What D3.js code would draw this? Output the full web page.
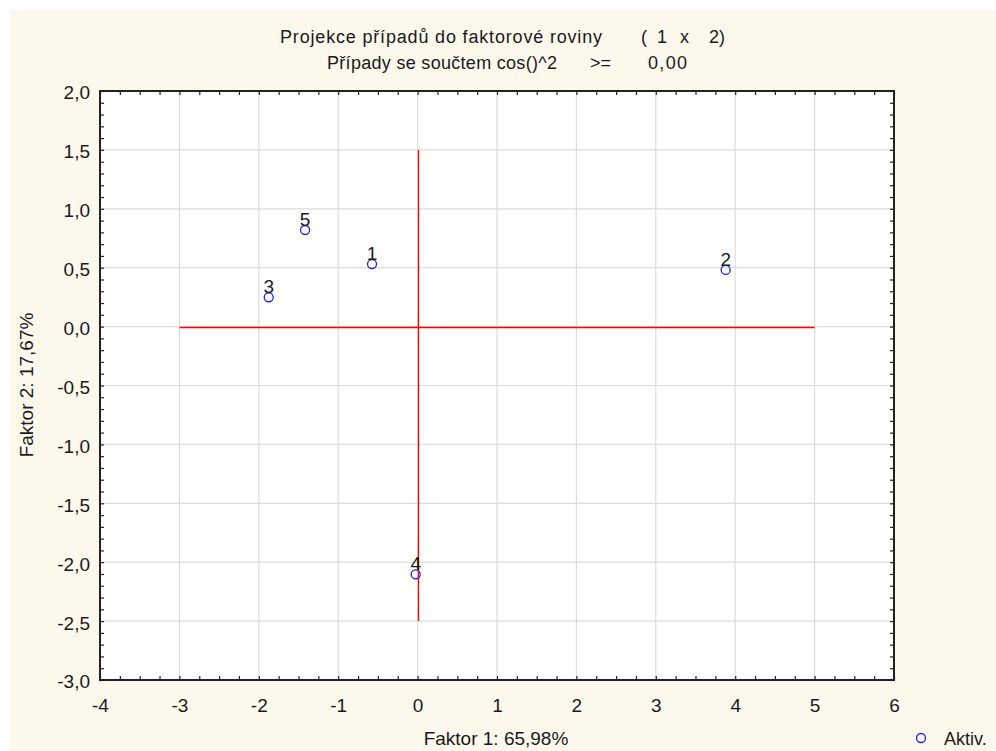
<!DOCTYPE html>
<html><head><meta charset="utf-8">
<script src="https://cdn.jsdelivr.net/npm/d3@7"></script>
<style>
html,body{margin:0;padding:0;background:#fff;}
svg{display:block;}
text{font-family:"Liberation Sans",Arial,sans-serif;fill:#1a1a1a;}
</style></head>
<body>
<svg id="chart" width="996" height="751"></svg>
<script>
// Data
const caseLabels = ["1", "2", "3", "4", "5"];
const factor1 = [-0.574, 3.88, -1.875, -0.024, -1.417];
const factor2 = [0.531, 0.481, 0.249, -2.103, 0.820];
const xTicks = [-4, -3, -2, -1, 0, 1, 2, 3, 4, 5, 6];
const yTicks = [2.0, 1.5, 1.0, 0.5, 0.0, -0.5, -1.0, -1.5, -2.0, -2.5, -3.0];
const hLine = {x: [-3, 5], y: 0};
const vLine = {x: 0, y: [1.5, -2.5]};

const svg = d3.select("#chart");
svg.append("rect").attr("x",10).attr("y",10).attr("width",986).attr("height",741).attr("fill","#fdf8ec");

const L=100,R=894,T=91,B=680;
const x = d3.scaleLinear().domain([-4,6]).range([L,R]);
const y = d3.scaleLinear().domain([-3,2]).range([B,T]);
const px = v => Math.round(v)+0.5;

svg.append("rect").attr("x",L).attr("y",T).attr("width",R-L).attr("height",B-T).attr("fill","#fff");

// grid
const grid = svg.append("g").attr("stroke","#dcdcdc").attr("stroke-width",1.2);
grid.selectAll(".gx").data(xTicks.slice(1,-1)).join("line")
  .attr("x1",d=>x(d)).attr("x2",d=>x(d)).attr("y1",T).attr("y2",B);
grid.selectAll(".gy").data(yTicks.slice(1,-1)).join("line")
  .attr("y1",d=>y(d)).attr("y2",d=>y(d)).attr("x1",L).attr("x2",R);

// red cross
svg.append("line").attr("x1",x(hLine.x[0])).attr("x2",x(hLine.x[1])).attr("y1",px(y(hLine.y))).attr("y2",px(y(hLine.y)))
  .attr("stroke","#ff0000").attr("stroke-width",1.3);
svg.append("line").attr("x1",px(x(vLine.x))).attr("x2",px(x(vLine.x))).attr("y1",y(vLine.y[0])).attr("y2",y(vLine.y[1]))
  .attr("stroke","#ff0000").attr("stroke-width",1.3);

// minor ticks (inward)
const xMinor = d3.range(-4, 6.001, 0.25);
const yMinor = d3.range(-3, 2.001, 0.1);
function minorAxis(axis, tr){
  const g = svg.append("g").attr("transform",tr).call(axis);
  g.select(".domain").remove();
  g.selectAll("text").remove();
  g.selectAll("line").attr("stroke","#222").attr("stroke-width",1.2);
}
minorAxis(d3.axisBottom(x).tickValues(xMinor).tickSize(-4).tickFormat(""), `translate(0,${B})`);
minorAxis(d3.axisTop(x).tickValues(xMinor).tickSize(-4).tickFormat(""), `translate(0,${T})`);
minorAxis(d3.axisLeft(y).tickValues(yMinor).tickSize(-4).tickFormat(""), `translate(${L},0)`);
minorAxis(d3.axisRight(y).tickValues(yMinor).tickSize(-4).tickFormat(""), `translate(${R},0)`);

// frame
svg.append("rect").attr("x",L).attr("y",T).attr("width",R-L).attr("height",B-T)
  .attr("fill","none").attr("stroke","#222").attr("stroke-width",2);

// labelled axes
const fmtY = d => d.toFixed(1).replace(".",",").replace("\u2212","-");
const xa = svg.append("g").attr("transform",`translate(0,${B})`)
  .call(d3.axisBottom(x).tickValues(xTicks).tickSize(0).tickFormat(d=>String(d)));
xa.select(".domain").remove();
xa.selectAll("text").attr("y",32).attr("dy",0).style("font-size","19px").style("font-family","'Liberation Sans',Arial,sans-serif").attr("fill","#1a1a1a");
const ya = svg.append("g").attr("transform",`translate(${L},0)`)
  .call(d3.axisLeft(y).tickValues(yTicks).tickSize(0).tickFormat(fmtY));
ya.select(".domain").remove();
ya.selectAll("text").attr("x",-10).attr("dy","0.42em").style("font-size","19px").style("font-family","'Liberation Sans',Arial,sans-serif").attr("fill","#1a1a1a");

// points
const pts = caseLabels.map((c,i)=>({c, fx:factor1[i], fy:factor2[i]}));
svg.append("g").selectAll("circle").data(pts).join("circle")
  .attr("cx",d=>x(d.fx)).attr("cy",d=>y(d.fy)).attr("r",4.5)
  .attr("fill","none").attr("stroke","#1f1fff").attr("stroke-width",1.3);
svg.append("g").selectAll("text").data(pts).join("text")
  .attr("x",d=>x(d.fx)).attr("y",d=>y(d.fy)-4).attr("text-anchor","middle")
  .style("font-size","19px").text(d=>d.c);

// titles
const t = svg.append("g").style("font-size","18px");
t.append("text").attr("x",280).attr("y",43).attr("textLength",322).text("Projekce případů do faktorové roviny");
t.append("text").attr("x",641).attr("y",43).text("(");
t.append("text").attr("x",657).attr("y",43).text("1");
t.append("text").attr("x",680).attr("y",43).text("x");
t.append("text").attr("x",709).attr("y",43).text("2)");
t.append("text").attr("x",327).attr("y",69).attr("textLength",230).text("Případy se součtem cos()^2");
t.append("text").attr("x",590).attr("y",69).text(">=");
t.append("text").attr("x",648).attr("y",69).attr("textLength",39).text("0,00");

// axis titles
svg.append("text").attr("x",496).attr("y",745).attr("text-anchor","middle").style("font-size","19px").text("Faktor 1: 65,98%");
svg.append("text").attr("transform","translate(33,385) rotate(-90)").attr("text-anchor","middle").style("font-size","19px").text("Faktor 2: 17,67%");

// legend
svg.append("circle").attr("cx",921).attr("cy",738).attr("r",4.5).attr("fill","none").attr("stroke","#1f1fff").attr("stroke-width",1.3);
svg.append("text").attr("x",944).attr("y",745).style("font-size","18px").text("Aktiv.");
</script>
</body></html>
